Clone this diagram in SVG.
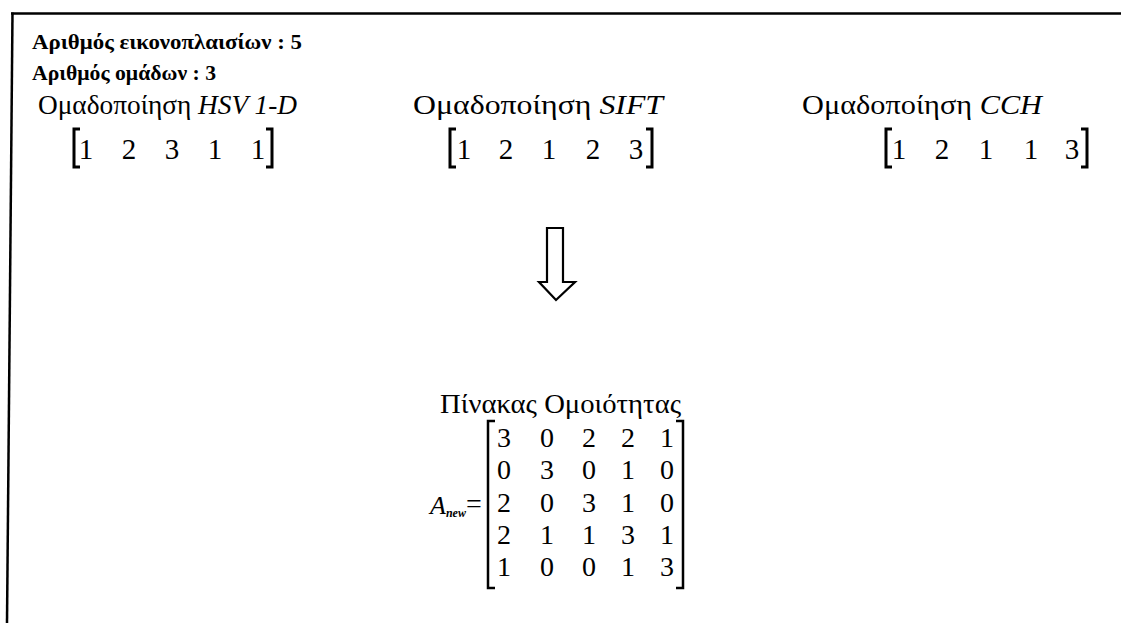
<svg xmlns="http://www.w3.org/2000/svg" width="1121" height="623" viewBox="0 0 1121 623">
<style>
.b{font-family:"Liberation Serif","Times New Roman",serif;font-weight:bold;font-size:20px;fill:#000}
.t{font-family:"Liberation Serif","Times New Roman",serif;font-size:27px;fill:#000}
.i{font-style:italic}
.d{font-family:"Liberation Serif","Times New Roman",serif;font-size:29px;fill:#000;text-anchor:middle}
.m{font-family:"Liberation Serif","Times New Roman",serif;font-size:28px;fill:#000;text-anchor:middle}
.br{fill:none;stroke:#000;stroke-width:3}
.mb{fill:none;stroke:#000;stroke-width:2.5}
</style>
<rect width="1121" height="623" fill="#fff"/>
<g id="frame" stroke="#000" stroke-width="2.5" fill="none">
<line x1="11" y1="13.5" x2="1121" y2="13.5"/>
<line x1="12.5" y1="12.5" x2="7" y2="623"/>
</g>
<g id="header">
<text class="b" x="32" y="49" textLength="270" lengthAdjust="spacingAndGlyphs">Αριθμός εικονοπλαισίων : 5</text>
<text class="b" x="32" y="80" textLength="184" lengthAdjust="spacingAndGlyphs">Αριθμός ομάδων : 3</text>
</g>
<g id="hsv">
<text class="t" x="38" y="114" textLength="259" lengthAdjust="spacingAndGlyphs">Ομαδοποίηση <tspan class="i">HSV 1-D</tspan></text>
<path class="br" d="M80,129 H74 V167 H80"/>
<path class="br" d="M266,129 H272 V167 H266"/>
<g class="d">
<text x="86" y="159">1</text><text x="129" y="159">2</text><text x="172" y="159">3</text><text x="215" y="159">1</text><text x="258" y="159">1</text>
</g>
</g>
<g id="sift">
<text class="t" x="413" y="114" textLength="250" lengthAdjust="spacingAndGlyphs">Ομαδοποίηση  <tspan class="i">SIFT</tspan></text>
<path class="br" d="M456,129 H450 V167 H456"/>
<path class="br" d="M646,129 H652 V167 H646"/>
<g class="d">
<text x="464" y="159">1</text><text x="506" y="159">2</text><text x="549" y="159">1</text><text x="593" y="159">2</text><text x="636" y="159">3</text>
</g>
</g>
<g id="cch">
<text class="t" x="802" y="114" textLength="240" lengthAdjust="spacingAndGlyphs">Ομαδοποίηση <tspan class="i">CCH</tspan></text>
<path class="br" d="M892,129 H886 V167 H892"/>
<path class="br" d="M1081,129 H1087 V167 H1081"/>
<g class="d">
<text x="899" y="159">1</text><text x="942" y="159">2</text><text x="986" y="159">1</text><text x="1031" y="159">1</text><text x="1072" y="159">3</text>
</g>
</g>
<g id="connectors">
<path d="M547,228 H563 V282 H575 L556,300 L539,282 H547 Z" fill="#fff" stroke="#000" stroke-width="2.2" stroke-linejoin="miter"/>
</g>
<g id="matrix">
<text class="t" x="440" y="413" textLength="241" lengthAdjust="spacingAndGlyphs">Πίνακας Ομοιότητας</text>
<text x="430" y="514" font-family="Liberation Serif, Times New Roman, serif" font-size="26" font-style="italic">A<tspan font-size="12" font-weight="bold" dy="3">new</tspan></text>
<text class="m" x="474" y="513">=</text>
<path class="mb" d="M495,421 H488 V588 H495"/>
<path class="mb" d="M676,421 H683 V588 H676"/>
<g class="m">
<text x="504" y="447">3</text><text x="547" y="447">0</text><text x="589" y="447">2</text><text x="628" y="447">2</text><text x="667" y="447">1</text>
<text x="504" y="479">0</text><text x="547" y="479">3</text><text x="589" y="479">0</text><text x="628" y="479">1</text><text x="667" y="479">0</text>
<text x="504" y="512">2</text><text x="547" y="512">0</text><text x="589" y="512">3</text><text x="628" y="512">1</text><text x="667" y="512">0</text>
<text x="504" y="544">2</text><text x="547" y="544">1</text><text x="589" y="544">1</text><text x="628" y="544">3</text><text x="667" y="544">1</text>
<text x="504" y="576">1</text><text x="547" y="576">0</text><text x="589" y="576">0</text><text x="628" y="576">1</text><text x="667" y="576">3</text>
</g>
</g>
</svg>
